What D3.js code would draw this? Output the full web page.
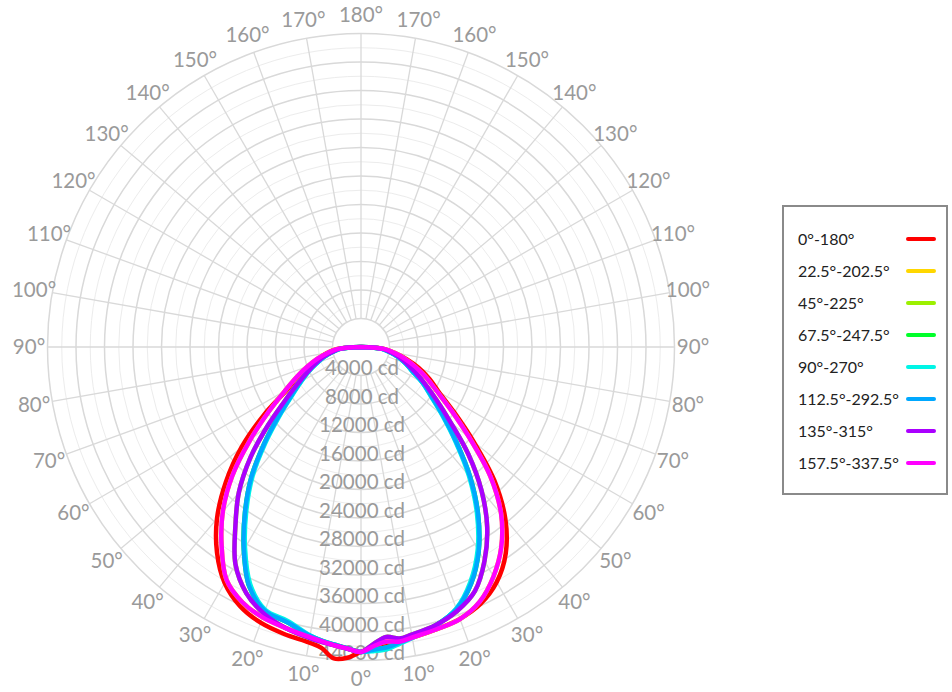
<!DOCTYPE html>
<html><head><meta charset="utf-8">
<script src="https://cdn.jsdelivr.net/npm/d3@7"></script>
<style>body{margin:0;background:#fff} svg{display:block}</style>
</head><body>
<svg id="chart" width="952" height="692"></svg>
<script>
// ---- data ----
const gammaAngles = [0,2.5,5,7.5,10,15,20,25,30,35,40,45,50,55,60,65,70,75,80,85,90];
const seriesNames = ["0°-180°","22.5°-202.5°","45°-225°","67.5°-247.5°","90°-270°","112.5°-292.5°","135°-315°","157.5°-337.5°"];
const seriesColors = ["#ff0000","#ffd700","#9cf000","#00ff2a","#00f5e6","#00a8ff","#aa00ff","#ff00ff"];
const radialTicks = [4000,8000,12000,16000,20000,24000,28000,32000,36000,40000,44000];
const angleTicks = [0,10,20,30,40,50,60,70,80,90,100,110,120,130,140,150,160,170,180];

const red_left      = [42800,43650,43860,42600,42100,41700,41180,40140,38260,35230,31440,26830,21880,16650,12000,9780,7560,6100,4860,3500,0];
const red_right     = [42800,42300,41940,41640,41400,41010,40600,39760,38100,35410,31520,26440,20600,15940,12580,10600,8630,6620,4770,3370,0];
const yellow_left   = [42800,42390,42050,41680,41350,40840,40390,39480,37740,34100,30180,25540,20320,15790,12350,9960,8000,6320,4770,3370,0];
const yellow_right  = [42800,42000,41500,41700,41400,41010,40630,39440,37190,34320,30600,25680,19930,15440,12210,10100,8140,6390,4770,3370,0];
const ygreen_left   = [42800,42390,42050,41770,41490,40840,39820,38100,35230,30740,26670,21950,16980,12910,10250,8280,6810,5540,4210,3090,0];
const ygreen_right  = [42800,41680,40840,41260,40980,40420,39440,37820,34670,30880,26320,21330,16350,12910,10390,8420,6880,5610,4280,3090,0];
const green_left    = [42800,42350,41950,41600,41150,40000,39400,37100,32900,28400,24000,19250,15100,12000,9850,8200,6650,5400,4100,2950,0];
const green_right   = [42800,42500,42300,41800,41400,40450,39150,36600,33050,28650,23850,19000,15100,12100,10000,7950,6650,5400,4100,2950,0];
const cyan_left     = [42800,42390,42010,41640,41120,39790,39270,36770,32560,28070,23690,18950,14850,11790,9680,8070,6570,5330,4070,2950,0];
const cyan_right    = [42800,42710,42550,41990,41470,40530,39070,36350,32770,28350,23550,18750,14880,11930,9890,7860,6600,5330,4070,2950,0];
const blue_left     = [42800,42350,41950,41600,41150,40000,39400,37100,32900,28400,24000,19250,15100,12000,9850,8200,6650,5400,4100,2950,0];
const blue_right    = [42800,42500,42300,41800,41400,40450,39150,36600,33050,28650,23850,19000,15100,12100,10000,7950,6650,5400,4100,2950,0];
const purple_left   = [42800,42390,42050,41770,41490,40840,39820,38100,35230,30740,26670,21950,16980,12910,10250,8280,6810,5540,4210,3090,0];
const purple_right  = [42800,41680,40840,41260,40980,40420,39440,37820,34670,30880,26320,21330,16350,12910,10390,8420,6880,5610,4280,3090,0];
const magenta_left  = [42800,42390,42050,41680,41350,40840,40390,39480,37740,34100,30180,25540,20320,15790,12350,9960,8000,6320,4770,3370,0];
const magenta_right = [42800,42000,41500,41700,41400,41010,40630,39440,37190,34320,30600,25680,19930,15440,12210,10100,8140,6390,4770,3370,0];

const seriesLeft  = [red_left, yellow_left, ygreen_left, green_left, cyan_left, blue_left, purple_left, magenta_left];
const seriesRight = [red_right, yellow_right, ygreen_right, green_right, cyan_right, blue_right, purple_right, magenta_right];

// ---- layout ----
const svg = d3.select("#chart");
const cx = 361, cy = 347, R = 313.5;
const rScale = d3.scaleLinear().domain([0, 44000]).range([0, R]);
const g = svg.append("g").attr("transform", `translate(${cx},${cy})`);
const FONT = "Lato, 'Open Sans', sans-serif";

// minor circles
const minorVals = d3.range(6000, 44000, 4000);
g.selectAll("circle.minor").data(minorVals).enter().append("circle")
  .attr("r", d => rScale(d)).attr("fill", "none").attr("stroke", "#ececec").attr("stroke-width", 1);
// major circles
g.selectAll("circle.major").data(radialTicks).enter().append("circle")
  .attr("r", d => rScale(d)).attr("fill", "none").attr("stroke", "#d9d9d9").attr("stroke-width", 1.5);
// spokes every 10 degrees all round
const spokeAngles = d3.range(0, 360, 10);
g.selectAll("line.spoke").data(spokeAngles).enter().append("line")
  .attr("x1", d => rScale(4000) * Math.sin(d * Math.PI / 180))
  .attr("y1", d => rScale(4000) * Math.cos(d * Math.PI / 180))
  .attr("x2", d => R * Math.sin(d * Math.PI / 180))
  .attr("y2", d => R * Math.cos(d * Math.PI / 180))
  .attr("stroke", "#d9d9d9").attr("stroke-width", 1.3);

// angle labels
const labelR = 332;
const angleLabelData = [];
angleTicks.forEach(a => {
  angleLabelData.push({a, side: 1});
  if (a > 0 && a < 180) angleLabelData.push({a, side: -1});
});
g.selectAll("text.ang").data(angleLabelData).enter().append("text")
  .attr("x", d => d.side * labelR * Math.sin(d.a * Math.PI / 180))
  .attr("y", d => labelR * Math.cos(d.a * Math.PI / 180))
  .attr("dy", "0.36em")
  .attr("text-anchor", "middle")
  .attr("font-family", FONT).attr("font-size", 20.5).attr("fill", "#9a9a9a")
  .text(d => `${d.a}°`);

// radial labels
g.selectAll("text.rad").data(radialTicks).enter().append("text")
  .attr("x", 1).attr("y", d => rScale(d) - 0.5)
  .attr("text-anchor", "middle")
  .attr("font-family", FONT).attr("font-size", 20.5).attr("fill", "#9a9a9a")
  .text(d => `${d} cd`);

// curves
const line = d3.lineRadial()
  .angle(d => d[0]).radius(d => rScale(d[1]))
  .curve(d3.curveCatmullRom.alpha(0.5));
seriesNames.forEach((name, i) => {
  const pts = [];
  for (let k = gammaAngles.length - 1; k >= 0; k--) {
    pts.push([Math.PI + gammaAngles[k] * Math.PI / 180, seriesLeft[i][k]]);
  }
  for (let k = 1; k < gammaAngles.length; k++) {
    pts.push([Math.PI - gammaAngles[k] * Math.PI / 180, seriesRight[i][k]]);
  }
  g.append("path").datum(pts).attr("d", line)
    .attr("fill", "none").attr("stroke", seriesColors[i])
    .attr("stroke-width", 4.5).attr("stroke-linejoin", "round");
});

// legend
const lg = svg.append("g");
lg.append("rect").attr("x", 783).attr("y", 206).attr("width", 164).attr("height", 288)
  .attr("fill", "#fff").attr("stroke", "#8a8a8a").attr("stroke-width", 2);
const rowY = d3.scaleLinear().domain([0, 7]).range([239, 463]);
seriesNames.forEach((name, i) => {
  lg.append("text").attr("x", 798).attr("y", rowY(i)).attr("dy", "0.35em")
    .attr("font-family", FONT).attr("font-size", 16).attr("fill", "#222").text(name);
  lg.append("line").attr("x1", 908).attr("x2", 934).attr("y1", rowY(i)).attr("y2", rowY(i))
    .attr("stroke", seriesColors[i]).attr("stroke-width", 4).attr("stroke-linecap", "round");
});
</script>
</body></html>
